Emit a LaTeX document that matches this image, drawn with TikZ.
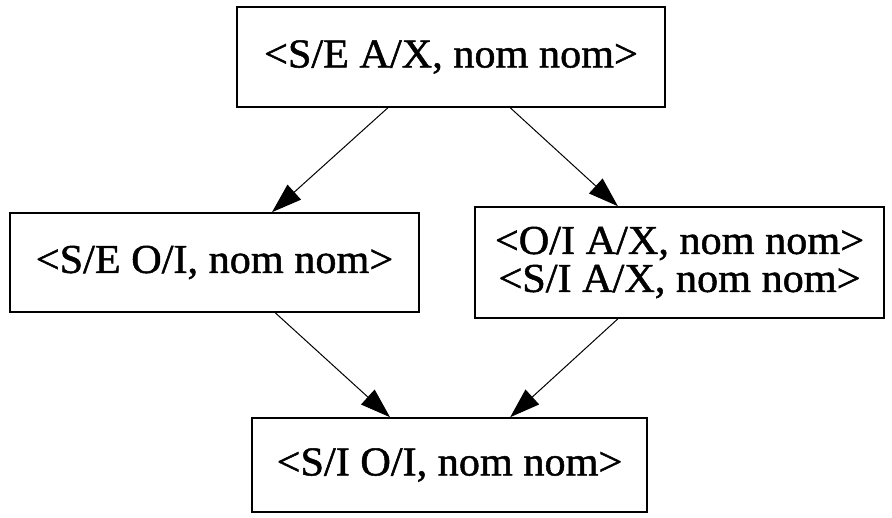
\documentclass[tikz,border=0pt]{standalone}
\usepackage{fontspec}
\setmainfont{Liberation Serif}[FakeStretch=1.03,FakeBold=1.2]
\usetikzlibrary{arrows.meta,calc}
\tikzset{
  state/.style={draw, line width=1.6pt, inner sep=0pt, align=center,
    font=\fontsize{41}{38}\selectfont},
  link/.style={line width=1pt, -{Triangle[length=30pt,width=20pt]}, shorten >=0pt}
}
\begin{document}
\begin{tikzpicture}[x=1pt,y=1pt]
  \useasboundingbox (0,0) rectangle (892,517);
  \fill[white] (0,0) rectangle (892,517);
  \node[state, minimum width=428pt, minimum height=100pt] (top) at (451,460) {<S/E A/X, nom nom>};
  \node[state, minimum width=409pt, minimum height=99pt] (left) at (214.5,254.5) {<S/E O/I, nom nom>};
  \node[state, minimum width=409pt, minimum height=111pt] (right) at (679.5,254.5) {<O/I A/X, nom nom>\\<S/I A/X, nom nom>};
  \node[state, minimum width=395pt, minimum height=94pt] (bottom) at (449.5,52) {<S/I O/I, nom nom>};
  \draw[link] ($(top.south west)!0.353!(top.south east)$) -- ($(left.north west)!0.64!(left.north east)$);
  \draw[link] ($(top.south west)!0.638!(top.south east)$) -- ($(right.north west)!0.35!(right.north east)$);
  \draw[link] ($(left.south west)!0.648!(left.south east)$) -- ($(bottom.north west)!0.35!(bottom.north east)$);
  \draw[link] ($(right.south west)!0.35!(right.south east)$) -- ($(bottom.north west)!0.653!(bottom.north east)$);
\end{tikzpicture}
\end{document}
